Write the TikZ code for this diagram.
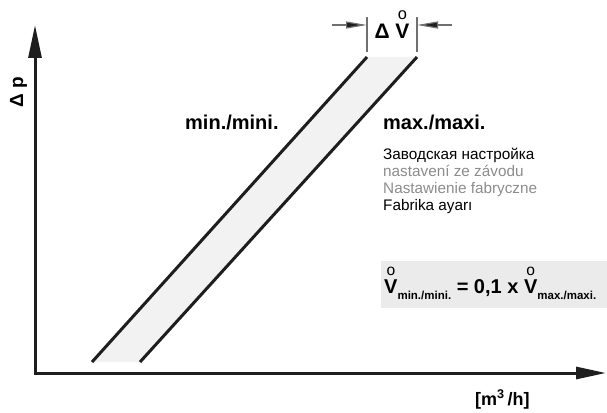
\documentclass[tikz,border=0pt]{standalone}
\usepackage{fontspec}
\setmainfont{Liberation Sans}
\usetikzlibrary{arrows.meta}

\definecolor{linedark}{HTML}{1E1E1E}
\definecolor{bandfill}{HTML}{F2F2F2}
\definecolor{boxfill}{HTML}{EBEBEB}
\definecolor{textgray}{HTML}{8C8C8C}
\definecolor{dimgray}{HTML}{707070}

\newcommand{\px}[1]{\fontsize{#1}{#1}\selectfont}
\newcommand{\Vring}{\leavevmode\setbox0\hbox{V}%
    \rlap{\hbox to\wd0{\hss\raisebox{0.86em}{\mdseries\scalebox{0.78}{o}}\hss}}V}
\newcommand{\flowsub}[1]{\raisebox{-0.32em}{\px{11.5}#1}}

\begin{document}
\begin{tikzpicture}[x=1pt,y=-1pt,
    axis/.style={line width=3pt,draw=linedark,line join=miter,
        arrows={Triangle[length=33pt,width=13pt]-Triangle[length=30pt,width=12pt]}},
    bandline/.style={line width=3pt,draw=linedark},
    dimtick/.style={line width=1.4pt,draw=dimgray},
    dimarrow/.style={line width=1.2pt,draw=dimgray,-{Triangle[length=21pt,width=7pt,fill=linedark]}},
    bold label/.style={inner sep=0pt,font=\bfseries\px{20}},
    note/.style={inner sep=0pt,font=\px{15.3}}]
\useasboundingbox (0,0) rectangle (607,412);

% axes
\coordinate (O) at (35,373);
\coordinate (ytip) at (35,25);
\coordinate (xtip) at (606,373);
\draw[axis] (ytip) -- (O) -- (xtip);

% characteristic band
\coordinate (b1) at (92,362);
\coordinate (b2) at (140,362);
\coordinate (t1) at (367,57);
\coordinate (t2) at (417,57);
\fill[bandfill] (b1) -- (t1) -- (t2) -- (b2) -- cycle;
\draw[bandline] (b1) -- (t1);
\draw[bandline] (b2) -- (t2);

% delta V
\draw[dimtick] ([yshift=5pt]t1) -- ([yshift=40pt]t1);
\draw[dimtick] ([yshift=5pt]t2) -- ([yshift=40pt]t2);
\coordinate (dl) at (332,25);
\coordinate (dr) at (452,25);
\draw[dimarrow] (dl) -- (dl -| t1);
\draw[dimarrow] (dr) -- (dr -| t2);
\node[bold label,font=\bfseries\px{21},anchor=base] (dV) at (392,38) {Δ \Vring};

\node[bold label,anchor=base west] (lmin) at (185,129) {min./mini.};
\node[bold label,anchor=base west] (lmax) at (383,129) {max./maxi.};

\foreach \txt/\col/\yy [count=\i] in {Заводская настройка/black/159,
    nastavení ze závodu/textgray/176,
    Nastawienie fabryczne/textgray/193,
    Fabrika ayarı/black/210}{
    \node[note,text=\col,anchor=base west] (note\i) at (383,\yy) {\txt};
}

% formula
\fill[boxfill] (381,261) rectangle (607,308);
\node[bold label,font=\bfseries\px{20},anchor=base west] (formula) at (384,293)
    {\Vring\flowsub{min./mini.} = 0,1 x \Vring\flowsub{max./maxi.}};

\node[bold label,font=\bfseries\px{19},rotate=90,anchor=base west] (dp) at (23,108) {Δ p};
\node[bold label,font=\bfseries\px{18},anchor=base west] (unit) at (475,405) {[m\textsuperscript{3}\,/h]};
\end{tikzpicture}
\end{document}
